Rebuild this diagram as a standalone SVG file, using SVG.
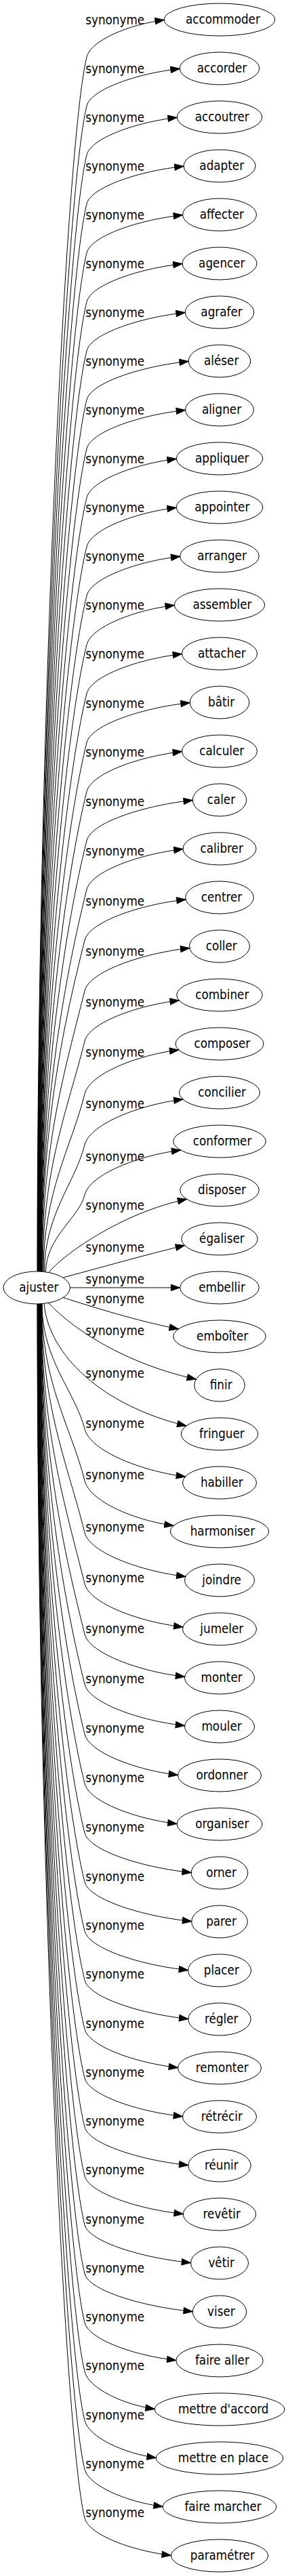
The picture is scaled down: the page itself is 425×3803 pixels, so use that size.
<svg xmlns="http://www.w3.org/2000/svg" width="425" height="3803" viewBox="0 0 425 3803">
<style>
text{font-family:"DejaVu Sans Condensed","DejaVu Sans",sans-serif;font-stretch:condensed;font-size:18.67px;fill:#000;text-anchor:middle}
.node ellipse{fill:none;stroke:#000;stroke-width:1}
#edges path{fill:none;stroke:#000;stroke-width:1;marker-end:url(#arrow)}
</style>
<defs>
<marker id="arrow" markerUnits="userSpaceOnUse" markerWidth="13.3" markerHeight="9.34" viewBox="0 0 13.3 9.34" refX="13.3" refY="4.67" orient="auto" overflow="visible"><path d="M0,0L13.3,4.67L0,9.34z" fill="#000" stroke="#000" stroke-width="1"/></marker>
</defs>
<rect width="425" height="3803" fill="#fff"/>
<g id="edges">
<path d="M55,1877 C55,1070.2 98,204 128,84 c6.1,-24.5 62.9,-48 114.3,-54.5"/>
<path d="M55.4,1877 C55.4,1102.7 98,276.3 128,156.3 c6.2,-24.7 75.5,-48.2 137.2,-54.8"/>
<path d="M55.7,1877 C55.7,1135.2 98,348.6 128,228.6 c6.2,-24.8 73.3,-48.5 133.2,-55.1"/>
<path d="M56.1,1877 C56.1,1167.8 98,420.9 128,300.9 c6.2,-24.9 78.7,-48.8 143,-55.4"/>
<path d="M56.4,1877 C56.4,1200.3 98,493.2 128,373.2 c6.3,-25.1 77.8,-49 141.5,-55.7"/>
<path d="M56.8,1877 C56.8,1232.8 98,565.5 128,445.5 c6.3,-25.2 77.6,-49.3 141,-56"/>
<path d="M57.1,1877 C57.1,1265.4 98,637.8 128,517.8 c6.3,-25.3 79.9,-49.5 145.2,-56.3"/>
<path d="M57.5,1877 C57.5,1297.9 98,710.1 128,590.1 c6.4,-25.5 82.6,-49.8 150.2,-56.6"/>
<path d="M57.8,1877 C57.8,1330.4 98,782.4 128,662.4 c6.4,-25.6 80,-50.1 145.5,-56.9"/>
<path d="M58.2,1877 C58.2,1363 98,854.7 128,734.7 c6.4,-25.7 72.7,-50.3 132.2,-57.2"/>
<path d="M58.5,1877 C58.5,1395.5 98,927 128,807 c6.5,-25.9 72.7,-50.6 132.2,-57.5"/>
<path d="M58.9,1877 C58.9,1428 98,999.3 128,879.3 c6.5,-26 75.7,-50.9 137.7,-57.8"/>
<path d="M59.2,1877 C59.2,1460.6 98,1071.6 128,951.6 c6.5,-26.1 71.1,-51.1 129.3,-58.1"/>
<path d="M59.6,1877 C59.6,1493.1 98,1143.9 128,1023.9 c6.6,-26.3 77.3,-51.4 140.5,-58.4"/>
<path d="M59.9,1877 C59.9,1525.6 98,1216.2 128,1096.2 c6.6,-26.4 83.7,-51.7 152.2,-58.7"/>
<path d="M60.3,1877 C60.3,1558.2 98,1288.5 128,1168.5 c6.7,-26.6 77.3,-51.9 140.5,-59"/>
<path d="M60.6,1877 C60.6,1590.7 98,1360.8 128,1240.8 c6.7,-26.7 86,-52.2 156.3,-59.3"/>
<path d="M61,1877 C61,1623.2 98,1433.1 128,1313.1 c6.7,-26.8 78.1,-52.4 142,-59.6"/>
<path d="M61.5,1877.3 C61.5,1657.1 95,1508 125,1388 c6.8,-27 82,-52.8 149.1,-60"/>
<path d="M62.2,1877.3 C62.2,1690.7 95,1582.6 125,1462.6 c7.1,-28.3 85.1,-55.4 154.8,-62.9"/>
<path d="M63,1877.4 C63,1724.2 99.5,1639.1 125,1537 c6.8,-27 76.6,-52.8 139.3,-60"/>
<path d="M64,1877.5 C64,1759.4 105.3,1693.8 125,1615 c7.3,-29.3 76.3,-57.2 138.7,-65"/>
<path d="M65.5,1877.6 C65.5,1793.2 110.9,1746.3 125,1690 c7.5,-30.2 79.7,-59 144.9,-67"/>
<path d="M67.5,1877.9 C67.5,1826.6 116.5,1798.2 125,1764 c7.4,-29.7 77.9,-58.1 141.6,-66"/>
<path d="M72,1878.6 C92,1853 180,1790 275.6,1770.4"/>
<path d="M93.3,1886 C150,1871 220,1851 272.5,1838.6"/>
<path d="M103.4,1901 L265.7,1901"/>
<path d="M93.3,1915.6 C150,1934 215,1953 263.3,1962"/>
<path d="M71.7,1923.4 C95,1950 170,2010 289.4,2036.2"/>
<path d="M65,1924.8 C72,2000 150,2075 274.9,2105"/>
<path d="M62,1924.8 C62,2008.2 111.1,2054.4 125,2109.8 c7.9,31.6 81.7,61.8 148.5,70.2"/>
<path d="M61.7,1924.8 C61.7,2042.5 105.4,2107.8 125,2186.2 c7.4,29.7 72.1,58.2 131.1,66.1"/>
<path d="M61.4,1924.8 C61.4,2077 99.7,2161.4 125,2262.7 c7.3,29.2 81.9,57 148.9,64.8"/>
<path d="M61,1924.9 C61,2111 95,2218.3 125,2338.3 c7.2,28.7 79.7,56.1 144.9,63.7"/>
<path d="M60.7,1924.9 C60.7,2144.5 95,2292.7 125,2412.7 c7.1,28.2 81.2,55.2 147.6,62.7"/>
<path d="M60.4,1924.9 C60.4,2177.7 95,2366.6 125,2486.6 c6.9,27.5 81.2,53.8 147.6,61.1"/>
<path d="M60.1,1924.9 C60.1,2210.8 95,2440.2 125,2560.2 c6.8,27.1 75.6,53.1 137.5,60.3"/>
<path d="M59.8,1924.9 C59.8,2243.7 95,2513.2 125,2633.2 c6.7,26.7 74.8,52.2 136,59.3"/>
<path d="M59.4,1925 C59.4,2276.5 95,2586 125,2706 c6.6,26.3 86.5,51.5 157.2,58.5"/>
<path d="M59.1,1925 C59.1,2309.1 95,2658.5 125,2778.5 c6.5,26.1 86.7,51 157.7,58"/>
<path d="M58.8,1925 C58.8,2341.7 95,2731 125,2851 c6.5,25.9 83.9,50.6 152.5,57.5"/>
<path d="M58.5,1925 C58.5,2374.3 95,2803.4 125,2923.4 c6.4,25.7 84,50.2 152.8,57.1"/>
<path d="M58.2,1925 C58.2,2406.8 95,2875.7 125,2995.7 c6.4,25.6 75.6,50 137.5,56.8"/>
<path d="M57.8,1925 C57.8,2439.4 95,2948 125,3068 c6.4,25.4 79.5,49.7 144.5,56.5"/>
<path d="M57.5,1925 C57.5,2471.8 95,3020.2 125,3140.2 c6.3,25.3 84,49.5 152.8,56.3"/>
<path d="M57.2,1925 C57.2,2504.3 95,3092.4 125,3212.4 c6.3,25.2 79.9,49.4 145.3,56.1"/>
<path d="M56.9,1925 C56.9,2536.8 95,3164.6 125,3284.6 c6.3,25.2 86.1,49.2 156.5,55.9"/>
<path d="M56.6,1925 C56.6,2569.3 95,3236.8 125,3356.8 c6.3,25.1 87.6,49 159.3,55.7"/>
<path d="M56.2,1925 C56.2,2601.8 95,3309 125,3429 c6.3,25 74.1,48.8 134.8,55.5"/>
<path d="M55.9,1925 C55.9,2634.3 95,3381.2 125,3501.2 c6.2,24.9 56.8,48.7 103.2,55.3"/>
<path d="M55.6,1925 C55.6,2666.8 95,3453.5 125,3573.5 c6.2,24.8 57.9,48.4 105.2,55"/>
<path d="M55.3,1925 C55.3,2699.2 95,3525.5 125,3645.5 c6.2,24.8 63.4,48.4 115.2,55"/>
<path d="M55,1925 C55,2731.6 95,3597.5 125,3717.5 c6.2,24.8 70,48.4 127.3,55"/>
</g>
<g id="edge-labels">
<text x="169.7" y="35.5">synonyme</text>
<text x="169.7" y="107.5">synonyme</text>
<text x="169.7" y="179.5">synonyme</text>
<text x="169.7" y="251.5">synonyme</text>
<text x="169.7" y="323.5">synonyme</text>
<text x="169.7" y="395.5">synonyme</text>
<text x="169.7" y="467.5">synonyme</text>
<text x="169.7" y="539.5">synonyme</text>
<text x="169.7" y="611.5">synonyme</text>
<text x="169.7" y="683.5">synonyme</text>
<text x="169.7" y="755.5">synonyme</text>
<text x="169.7" y="827.5">synonyme</text>
<text x="169.7" y="899.5">synonyme</text>
<text x="169.7" y="971.5">synonyme</text>
<text x="169.7" y="1044.8">synonyme</text>
<text x="169.7" y="1116.8">synonyme</text>
<text x="169.7" y="1189.8">synonyme</text>
<text x="169.7" y="1263">synonyme</text>
<text x="169.7" y="1336.6">synonyme</text>
<text x="169.7" y="1411.4">synonyme</text>
<text x="169.7" y="1485.8">synonyme</text>
<text x="169.7" y="1560.2">synonyme</text>
<text x="169.7" y="1636.2">synonyme</text>
<text x="169.7" y="1713.9">synonyme</text>
<text x="169.7" y="1786.2">synonyme</text>
<text x="169.7" y="1848.2">synonyme</text>
<text x="169.7" y="1894.9">synonyme</text>
<text x="169.7" y="1923.8">synonyme</text>
<text x="169.7" y="1971.4">synonyme</text>
<text x="169.7" y="2034.2">synonyme</text>
<text x="169.7" y="2107.8">synonyme</text>
<text x="169.7" y="2184.2">synonyme</text>
<text x="169.7" y="2260.7">synonyme</text>
<text x="169.7" y="2336.3">synonyme</text>
<text x="169.7" y="2410.7">synonyme</text>
<text x="169.7" y="2484.6">synonyme</text>
<text x="169.7" y="2558.2">synonyme</text>
<text x="169.7" y="2631.2">synonyme</text>
<text x="169.7" y="2704">synonyme</text>
<text x="169.7" y="2776.5">synonyme</text>
<text x="169.7" y="2849">synonyme</text>
<text x="169.7" y="2921.4">synonyme</text>
<text x="169.7" y="2993.7">synonyme</text>
<text x="169.7" y="3066">synonyme</text>
<text x="169.7" y="3138.2">synonyme</text>
<text x="169.7" y="3210.4">synonyme</text>
<text x="169.7" y="3282.6">synonyme</text>
<text x="169.7" y="3354.8">synonyme</text>
<text x="169.7" y="3427">synonyme</text>
<text x="169.7" y="3499.2">synonyme</text>
<text x="169.7" y="3571.5">synonyme</text>
<text x="169.7" y="3643.5">synonyme</text>
<text x="169.7" y="3715.5">synonyme</text>
</g>
<g id="n-ajuster" class="node"><ellipse cx="54.2" cy="1901" rx="49.2" ry="24"/><text x="57.3" y="1907.3">ajuster</text></g>
<g id="n-accommoder" class="node"><ellipse cx="324" cy="29" rx="81.7" ry="24"/><text x="328.9" y="35.3">accommoder</text></g>
<g id="n-accorder" class="node"><ellipse cx="324" cy="101" rx="58.8" ry="24"/><text x="327.5" y="107.3">accorder</text></g>
<g id="n-accoutrer" class="node"><ellipse cx="324" cy="173" rx="62.8" ry="24"/><text x="327.8" y="179.3">accoutrer</text></g>
<g id="n-adapter" class="node"><ellipse cx="324" cy="245" rx="53" ry="24"/><text x="327.2" y="251.3">adapter</text></g>
<g id="n-affecter" class="node"><ellipse cx="324" cy="317" rx="54.5" ry="24"/><text x="327.3" y="323.3">affecter</text></g>
<g id="n-agencer" class="node"><ellipse cx="324" cy="389" rx="55" ry="24"/><text x="327.3" y="395.3">agencer</text></g>
<g id="n-agrafer" class="node"><ellipse cx="324" cy="461" rx="50.8" ry="24"/><text x="327" y="467.3">agrafer</text></g>
<g id="n-aleser" class="node"><ellipse cx="324" cy="533" rx="45.8" ry="24"/><text x="326.7" y="539.3">aléser</text></g>
<g id="n-aligner" class="node"><ellipse cx="324" cy="605" rx="50.5" ry="24"/><text x="327" y="611.3">aligner</text></g>
<g id="n-appliquer" class="node"><ellipse cx="324" cy="677" rx="63.8" ry="24"/><text x="327.8" y="683.3">appliquer</text></g>
<g id="n-appointer" class="node"><ellipse cx="324" cy="749" rx="63.8" ry="24"/><text x="327.8" y="755.3">appointer</text></g>
<g id="n-arranger" class="node"><ellipse cx="324" cy="821" rx="58.3" ry="24"/><text x="327.5" y="827.3">arranger</text></g>
<g id="n-assembler" class="node"><ellipse cx="324" cy="893" rx="66.7" ry="24"/><text x="328" y="899.3">assembler</text></g>
<g id="n-attacher" class="node"><ellipse cx="324" cy="965" rx="55.5" ry="24"/><text x="327.3" y="971.3">attacher</text></g>
<g id="n-batir" class="node"><ellipse cx="324" cy="1037" rx="43.8" ry="24"/><text x="326.6" y="1043.3">bâtir</text></g>
<g id="n-calculer" class="node"><ellipse cx="324" cy="1109" rx="55.5" ry="24"/><text x="327.3" y="1115.3">calculer</text></g>
<g id="n-caler" class="node"><ellipse cx="324" cy="1181" rx="39.7" ry="24"/><text x="326.4" y="1187.3">caler</text></g>
<g id="n-calibrer" class="node"><ellipse cx="324" cy="1253" rx="54" ry="24"/><text x="327.2" y="1259.3">calibrer</text></g>
<g id="n-centrer" class="node"><ellipse cx="324" cy="1325" rx="50.3" ry="24"/><text x="327" y="1331.3">centrer</text></g>
<g id="n-coller" class="node"><ellipse cx="324" cy="1397" rx="44.5" ry="24"/><text x="326.7" y="1403.3">coller</text></g>
<g id="n-combiner" class="node"><ellipse cx="324" cy="1469" rx="63.3" ry="24"/><text x="327.8" y="1475.3">combiner</text></g>
<g id="n-composer" class="node"><ellipse cx="324" cy="1541" rx="65" ry="24"/><text x="327.9" y="1547.3">composer</text></g>
<g id="n-concilier" class="node"><ellipse cx="324" cy="1613" rx="59.5" ry="24"/><text x="327.6" y="1619.3">concilier</text></g>
<g id="n-conformer" class="node"><ellipse cx="324" cy="1685" rx="68.3" ry="24"/><text x="328.1" y="1691.3">conformer</text></g>
<g id="n-disposer" class="node"><ellipse cx="324" cy="1757" rx="58.3" ry="24"/><text x="327.5" y="1763.3">disposer</text></g>
<g id="n-egaliser" class="node"><ellipse cx="324" cy="1829" rx="56.2" ry="24"/><text x="327.4" y="1835.3">égaliser</text></g>
<g id="n-embellir" class="node"><ellipse cx="324" cy="1901" rx="58.3" ry="24"/><text x="327.5" y="1907.3">embellir</text></g>
<g id="n-emboiter" class="node"><ellipse cx="324" cy="1973" rx="68.3" ry="24"/><text x="328.1" y="1979.3">emboîter</text></g>
<g id="n-finir" class="node"><ellipse cx="324" cy="2045" rx="37.2" ry="24"/><text x="326.2" y="2051.3">finir</text></g>
<g id="n-fringuer" class="node"><ellipse cx="324" cy="2117" rx="56.7" ry="24"/><text x="327.4" y="2123.3">fringuer</text></g>
<g id="n-habiller" class="node"><ellipse cx="324" cy="2189" rx="54.5" ry="24"/><text x="327.3" y="2195.3">habiller</text></g>
<g id="n-harmoniser" class="node"><ellipse cx="324" cy="2261" rx="72.8" ry="24"/><text x="328.4" y="2267.3">harmoniser</text></g>
<g id="n-joindre" class="node"><ellipse cx="324" cy="2333" rx="51.5" ry="24"/><text x="327.1" y="2339.3">joindre</text></g>
<g id="n-jumeler" class="node"><ellipse cx="324" cy="2405" rx="54.5" ry="24"/><text x="327.3" y="2411.3">jumeler</text></g>
<g id="n-monter" class="node"><ellipse cx="324" cy="2477" rx="51.5" ry="24"/><text x="327.1" y="2483.3">monter</text></g>
<g id="n-mouler" class="node"><ellipse cx="324" cy="2549" rx="51.5" ry="24"/><text x="327.1" y="2555.3">mouler</text></g>
<g id="n-ordonner" class="node"><ellipse cx="324" cy="2621" rx="61.5" ry="24"/><text x="327.7" y="2627.3">ordonner</text></g>
<g id="n-organiser" class="node"><ellipse cx="324" cy="2693" rx="63" ry="24"/><text x="327.8" y="2699.3">organiser</text></g>
<g id="n-orner" class="node"><ellipse cx="324" cy="2765" rx="41.8" ry="24"/><text x="326.5" y="2771.3">orner</text></g>
<g id="n-parer" class="node"><ellipse cx="324" cy="2837" rx="41.3" ry="24"/><text x="326.5" y="2843.3">parer</text></g>
<g id="n-placer" class="node"><ellipse cx="324" cy="2909" rx="46.5" ry="24"/><text x="326.8" y="2915.3">placer</text></g>
<g id="n-regler" class="node"><ellipse cx="324" cy="2981" rx="46.2" ry="24"/><text x="326.8" y="2987.3">régler</text></g>
<g id="n-remonter" class="node"><ellipse cx="324" cy="3053" rx="61.5" ry="24"/><text x="327.7" y="3059.3">remonter</text></g>
<g id="n-retrecir" class="node"><ellipse cx="324" cy="3125" rx="54.5" ry="24"/><text x="327.3" y="3131.3">rétrécir</text></g>
<g id="n-reunir" class="node"><ellipse cx="324" cy="3197" rx="46.2" ry="24"/><text x="326.8" y="3203.3">réunir</text></g>
<g id="n-revetir" class="node"><ellipse cx="324" cy="3269" rx="53.7" ry="24"/><text x="327.2" y="3275.3">revêtir</text></g>
<g id="n-vetir" class="node"><ellipse cx="324" cy="3341" rx="42.5" ry="24"/><text x="326.6" y="3347.3">vêtir</text></g>
<g id="n-viser" class="node"><ellipse cx="324" cy="3413" rx="39.7" ry="24"/><text x="326.4" y="3419.3">viser</text></g>
<g id="n-faire-aller" class="node"><ellipse cx="324" cy="3485" rx="64.2" ry="24"/><text x="327.9" y="3491.3">faire aller</text></g>
<g id="n-mettre-d-accord" class="node"><ellipse cx="324" cy="3557" rx="95.8" ry="24"/><text x="329.7" y="3563.3">mettre d'accord</text></g>
<g id="n-mettre-en-place" class="node"><ellipse cx="324" cy="3629" rx="93.8" ry="24"/><text x="329.6" y="3635.3">mettre en place</text></g>
<g id="n-faire-marcher" class="node"><ellipse cx="324" cy="3701" rx="83.8" ry="24"/><text x="329" y="3707.3">faire marcher</text></g>
<g id="n-parametrer" class="node"><ellipse cx="324" cy="3773" rx="71.7" ry="24"/><text x="328.3" y="3779.3">paramétrer</text></g>
</svg>
